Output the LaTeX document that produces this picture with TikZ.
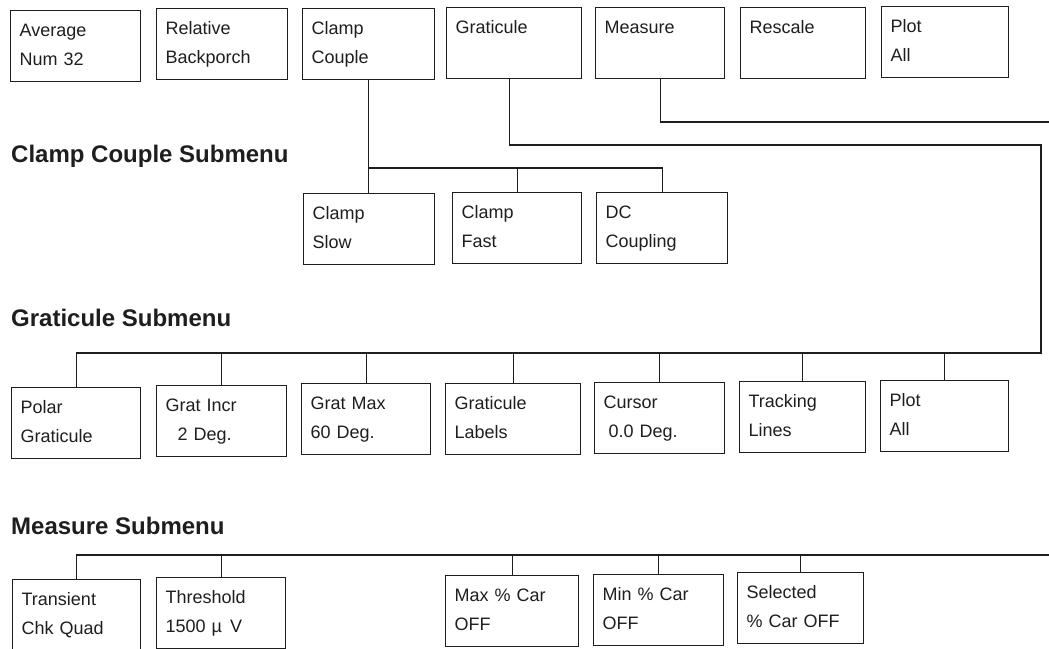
\documentclass[tikz,border=0pt]{standalone}
\usepackage{fontspec}
\setmainfont{Liberation Sans}
\definecolor{ink}{RGB}{30,30,30}
\begin{document}
\begin{tikzpicture}[x=1pt,y=-1pt,
  mbox/.style={draw=ink, line width=1.3pt, anchor=north west, align=left,
    inner xsep=9pt, inner ysep=0pt, text height=26pt, text depth=45pt,
    font=\fontsize{18}{29}\selectfont, text=ink},
  head/.style={anchor=base west, inner sep=0pt, font=\fontsize{24}{28}\selectfont\bfseries, text=ink},
  conn/.style={draw=ink, line width=1.3pt}]
\useasboundingbox (0,0) rectangle (1049,648);
\clip (0,0) rectangle (1049,648);

% top menu
\node[mbox, text width=112pt] (avg) at (10,10) {Average\\Num 32};
\node[mbox, text width=113pt] (rb) at (156,8) {Relative\\Backporch};
\node[mbox, text width=114pt] (cc) at (302,8) {Clamp\\Couple};
\node[mbox, text width=117pt] (gr) at (446,7) {Graticule};
\node[mbox, text width=111pt] (me) at (595,7) {Measure};
\node[mbox, text width=107pt] (rs) at (740,7) {Rescale};
\node[mbox, text width=109pt] (pa) at (881,6) {Plot\\All};

% headers
\node[head] (h1) at (11,162) {Clamp Couple Submenu};
\node[head] (h2) at (11,326) {Graticule Submenu};
\node[head] (h3) at (11,534) {Measure Submenu};

% clamp couple submenu
\node[mbox, text width=113pt] (cs) at (303,193) {Clamp\\Slow};
\node[mbox, text width=111pt] (cf) at (452,192) {Clamp\\Fast};
\node[mbox, text width=113pt] (dc) at (596,192) {DC\\Coupling};

% graticule submenu
\node[mbox, text width=111pt] (pg) at (11,387) {Polar\\Graticule};
\node[mbox, text width=112pt] (gi) at (156,385) {Grat Incr\\\hspace*{12pt}2 Deg.};
\node[mbox, text width=111pt] (gm) at (301,383) {Grat Max\\60 Deg.};
\node[mbox, text width=117pt] (gl) at (445,383) {Graticule\\Labels};
\node[mbox, text width=112pt] (cu) at (594,382) {Cursor\\\hspace*{5pt}0.0 Deg.};
\node[mbox, text width=108pt] (tl) at (739,381) {Tracking\\Lines};
\node[mbox, text width=110pt] (pb) at (880,380) {Plot\\All};

% measure submenu
\node[mbox, text width=110pt] (tq) at (12,579) {Transient\\Chk Quad};
\node[mbox, text width=111pt] (th) at (156,577) {Threshold\\1500 µ\hspace{8pt}V};
\node[mbox, text width=115pt] (mx) at (445,575) {Max \% Car\\OFF};
\node[mbox, text width=112pt] (mn) at (593,574) {Min \% Car\\OFF};
\node[mbox, text width=108pt] (sc) at (737,572) {Selected\\\% Car OFF};

% clamp couple connectors
\coordinate (ccbus) at (0,168);
\draw[conn] (cc.south) -- (cc.south |- cs.north);
\draw[conn] (cc.south |- ccbus) -| (dc.north);
\draw[conn] (cf.north) -- (cf.north |- ccbus);

% graticule connectors
\coordinate (gturn) at (1041,145);
\coordinate (gbus) at (0,353);
\draw[conn] ([xshift=-5pt]gr.south) |- (gturn) -- (gturn |- gbus) -| (pg.north);
\foreach \n in {gi,gm,gl,cu,tl,pb} \draw[conn] (\n.north) -- (\n.north |- gbus);

% measure connectors
\coordinate (mout) at (1049,122);
\draw[conn] (me.south) |- (mout);
\coordinate (mbus) at (1049,555);
\draw[conn] (mbus) -| (tq.north);
\foreach \n in {th,mx,mn,sc} \draw[conn] (\n.north) -- (\n.north |- mbus);
\end{tikzpicture}
\end{document}
